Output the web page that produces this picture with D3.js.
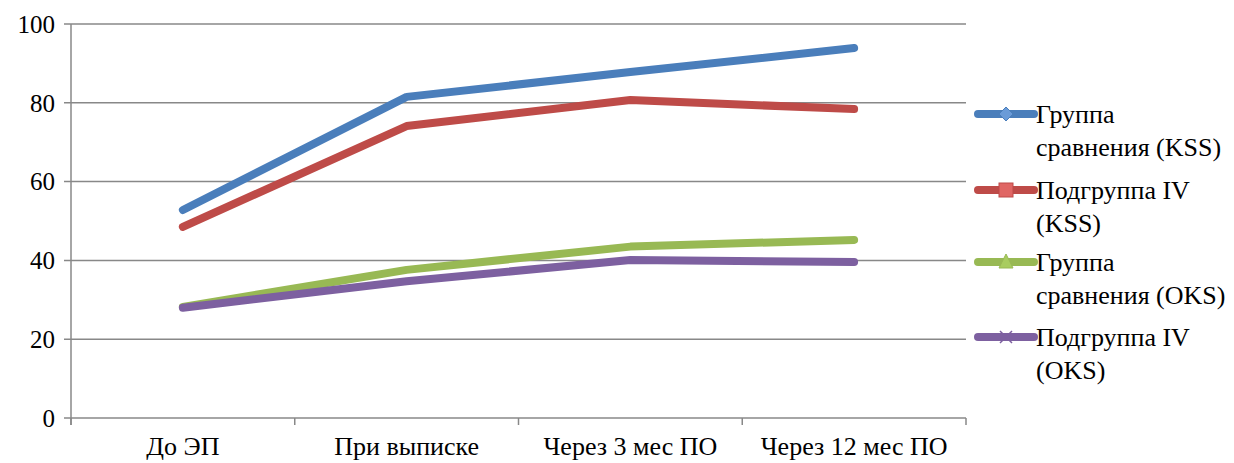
<!DOCTYPE html>
<html>
<head>
<meta charset="utf-8">
<script src="https://cdn.jsdelivr.net/npm/d3@7"></script>
</head>
<body style="margin:0">
<script>
// categories on the x axis
const categories = ["До ЭП", "При выписке", "Через 3 мес ПО", "Через 12 мес ПО"];
const yTicks = [0, 20, 40, 60, 80, 100];

// series names and values
const seriesNames = ["Группа сравнения (KSS)", "Подгруппа IV (KSS)", "Группа сравнения (OKS)", "Подгруппа IV (OKS)"];
const legendLines = [["Группа", "сравнения (KSS)"], ["Подгруппа IV", "(KSS)"], ["Группа", "сравнения (OKS)"], ["Подгруппа IV", "(OKS)"]];
const kssCompare = [52.8, 81.5, 87.8, 93.9];
const kssSub4 = [48.5, 74.1, 80.7, 78.4];
const oksCompare = [28.2, 37.6, 43.5, 45.2];
const oksSub4 = [28.0, 34.7, 40.1, 39.6];
const colors = ["#4a7ebb", "#be4b48", "#98b954", "#7d60a0"];
const markers = ["diamond", "square", "triangle", "cross"];

const allSeries = [kssCompare, kssSub4, oksCompare, oksSub4];

const FONT = '"Liberation Serif"';
const W = 1234, H = 463;
const margin = {top: 24, left: 71, right: 268, bottom: 45};
const width = W - margin.left - margin.right,
      height = H - margin.top - margin.bottom;

const svg = d3.select("body").append("svg")
    .attr("width", W).attr("height", H)
    .style("font-family", FONT);

const g = svg.append("g")
    .attr("transform", "translate(" + margin.left + "," + margin.top + ")");

const x = d3.scaleBand().domain(categories).range([0, width]);
const y = d3.scaleLinear().domain([0, 100]).range([height, 0]);

// horizontal gridlines
g.selectAll(".grid").data(yTicks).enter().append("line")
    .attr("x1", -7).attr("x2", width)
    .attr("y1", d => y(d)).attr("y2", d => y(d))
    .attr("stroke", "#888").attr("stroke-width", 1.5);

// y axis line
g.append("line").attr("x1", 0).attr("x2", 0).attr("y1", 0).attr("y2", height + 7)
    .attr("stroke", "#888").attr("stroke-width", 1.5);

// x tick marks at band edges
const edges = categories.map(c => x(c)).concat([width]);
g.selectAll(".xt").data(edges).enter().append("line")
    .attr("x1", d => d).attr("x2", d => d)
    .attr("y1", height).attr("y2", height + 7)
    .attr("stroke", "#888").attr("stroke-width", 1.5);

// y labels
g.selectAll(".yl").data(yTicks).enter().append("text")
    .attr("x", -16).attr("y", d => y(d)).attr("dy", "0.35em")
    .attr("text-anchor", "end")
    .style("font-family", FONT).style("font-size", "25px")
    .text(d => d);

// x labels
g.selectAll(".xl").data(categories).enter().append("text")
    .attr("x", d => x(d) + x.bandwidth() / 2).attr("y", height + 37)
    .attr("text-anchor", "middle")
    .style("font-family", FONT).style("font-size", "26px")
    .text(d => d);

const line = d3.line()
    .x((d, i) => x(categories[i]) + x.bandwidth() / 2)
    .y(d => y(d));

allSeries.forEach((s, i) => {
  g.append("path").datum(s)
    .attr("d", line)
    .attr("fill", "none")
    .attr("stroke", colors[i])
    .attr("stroke-width", 8)
    .attr("stroke-linecap", "round")
    .attr("stroke-linejoin", "round");
});

// legend
const lg = svg.append("g").attr("transform", "translate(978,0)");
const legendY = [114, 190, 262, 337];
legendLines.forEach((lines, i) => {
  const ly = legendY[i];
  lg.append("line").attr("x1", 0).attr("x2", 56).attr("y1", ly).attr("y2", ly)
    .attr("stroke", colors[i]).attr("stroke-width", 8).attr("stroke-linecap", "round");
  const cx = 28;
  const m = markers[i];
  if (m === "diamond") {
    lg.append("path").attr("d", `M${cx},${ly-7}L${cx+7},${ly}L${cx},${ly+7}L${cx-7},${ly}Z`)
      .attr("fill", "#6a9bd8").attr("stroke", "#4a7ebb");
  } else if (m === "square") {
    lg.append("rect").attr("x", cx - 7).attr("y", ly - 7).attr("width", 14).attr("height", 14)
      .attr("fill", "#e06664").attr("stroke", "#be4b48");
  } else if (m === "triangle") {
    lg.append("path").attr("d", `M${cx},${ly-8}L${cx+7},${ly+6}L${cx-7},${ly+6}Z`)
      .attr("fill", "#a8cc60").attr("stroke", "#98b954");
  } else {
    lg.append("path").attr("d", `M${cx-6},${ly-6}L${cx+6},${ly+6}M${cx+6},${ly-6}L${cx-6},${ly+6}`)
      .attr("stroke", "#7d60a0").attr("stroke-width", 1.5);
  }
  lines.forEach((t, j) => {
    lg.append("text").attr("x", 58).attr("y", ly + 9 + j * 33)
      .style("font-family", FONT).style("font-size", "26px").text(t);
  });
});
</script>
</body>
</html>
